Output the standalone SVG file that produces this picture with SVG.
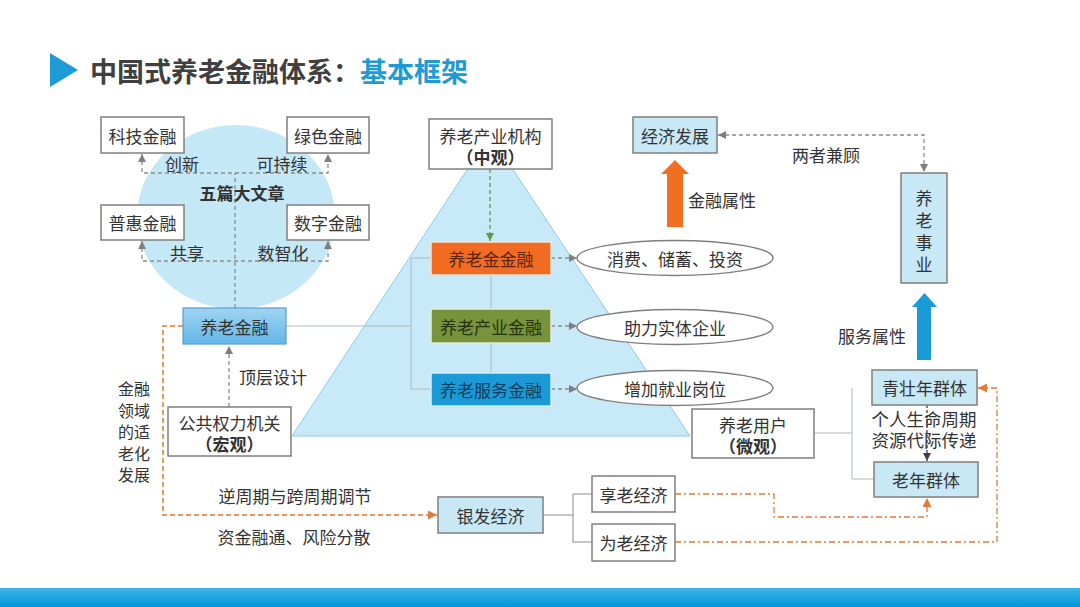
<svg xmlns="http://www.w3.org/2000/svg" width="1080" height="607" viewBox="0 0 1080 607">
<defs>
<style>
text{font-family:"Noto Sans CJK SC","Liberation Sans",sans-serif;fill:#333;font-size:17px;dominant-baseline:central;text-anchor:middle}
.b{font-weight:bold}
.sm{font-size:16px}
.box{fill:#fff;stroke:#7f7f7f;stroke-width:1.5}
.lb{fill:#c9e8f5;stroke:#7f7f7f;stroke-width:1.5}
.dg{fill:none;stroke:#8c8c8c;stroke-width:1.3;stroke-dasharray:4 3}
.sl{fill:none;stroke:#b0b8bc;stroke-width:1}
.or{fill:none;stroke:#e07b39;stroke-width:1.5;stroke-dasharray:5 3}
.od{fill:none;stroke:#e07b39;stroke-width:1.3;stroke-dasharray:6 3 2 3}
.ell{fill:#fff;stroke:#7f7f7f;stroke-width:1.5}
</style>
<marker id="ag" viewBox="0 0 10 10" refX="10" refY="5" markerWidth="8" markerHeight="8" markerUnits="userSpaceOnUse" orient="auto-start-reverse"><path d="M0,0 L10,5 L0,10 z" fill="#7f7f7f"/></marker>
<marker id="ad" viewBox="0 0 10 10" refX="10" refY="5" markerWidth="8" markerHeight="8" markerUnits="userSpaceOnUse" orient="auto-start-reverse"><path d="M0,0 L10,5 L0,10 z" fill="#404040"/></marker>
<marker id="agr" viewBox="0 0 10 10" refX="10" refY="5" markerWidth="8" markerHeight="8" markerUnits="userSpaceOnUse" orient="auto-start-reverse"><path d="M0,0 L10,5 L0,10 z" fill="#5f9a3c"/></marker>
<marker id="ao" viewBox="0 0 10 10" refX="10" refY="5" markerWidth="9" markerHeight="9" markerUnits="userSpaceOnUse" orient="auto-start-reverse"><path d="M0,0 L10,5 L0,10 z" fill="#e07b39"/></marker>
<linearGradient id="gb" x1="0" y1="0" x2="0" y2="1"><stop offset="0" stop-color="#9fd4f2"/><stop offset="1" stop-color="#62b6e8"/></linearGradient>
<linearGradient id="bar" x1="0" y1="0" x2="0" y2="1"><stop offset="0" stop-color="#3cb4e8"/><stop offset="1" stop-color="#0097d8"/></linearGradient>
</defs>
<rect width="1080" height="607" fill="#fff"/>
<g id="title">
<polygon points="50,53 78,70 50,87" fill="#1e9ad6"/>
<text x="90" y="70" class="b" style="font-size:27px;text-anchor:start;fill:#404040">中国式养老金融体系：<tspan style="fill:#1e9ad6">基本框架</tspan></text>
</g>
<g id="bg">
<ellipse cx="236" cy="217" rx="99" ry="92" fill="#c5e8f7"/>
<polygon points="490,135 292,436 690,436" fill="#c8eaf8" stroke="#8fcbe6" stroke-width="1"/>
<rect x="0" y="588" width="1080" height="19" fill="url(#bar)"/>
</g>
<g id="connectors">
<path class="dg" d="M235,308 V173"/>
<path class="dg" d="M142,154 V173 H328 V154" marker-start="url(#ag)" marker-end="url(#ag)"/>
<path class="dg" d="M142,241 V261 H328 V241" marker-start="url(#ag)" marker-end="url(#ag)"/>
<path class="dg" d="M229,407 V346" marker-end="url(#ag)"/>
<path class="sl" d="M286,326 H411"/>
<path class="sl" d="M431,258 H411 V389 H431"/>
<path class="sl" d="M491,275 V309 M491,343 V373"/>
<path fill="none" stroke="#5f9a3c" stroke-width="1.3" stroke-dasharray="4 3" d="M490,169 V241" marker-end="url(#agr)"/>
<path class="dg" d="M551,258 H577" marker-end="url(#ag)"/>
<path class="dg" d="M551,326 H577" marker-end="url(#ag)"/>
<path class="dg" d="M551,389 H577" marker-end="url(#ag)"/>
<path class="dg" d="M718,135 H924 V172" marker-start="url(#ag)" marker-end="url(#ag)"/>
<path class="sl" d="M814,433 H852 M852,388 V479 H874"/>
<path fill="none" stroke="#404040" stroke-width="1.3" stroke-dasharray="3 2" d="M927,405 V461" marker-end="url(#ad)"/>
<path class="or" d="M183,326 H163 V515 H437" marker-end="url(#ao)"/>
<path fill="none" stroke="#8c8c8c" stroke-width="1" d="M543,515 H573 M592,494 H573 V542 H592"/>
<path class="od" d="M675,494 H774 V517 H927 V498" marker-end="url(#ao)"/>
<path class="od" d="M675,542 H997 V388 H978" marker-end="url(#ao)"/>
<polygon points="675,160 689,174 683,174 683,227 667,227 667,174 661,174" fill="#f07020"/>
<polygon points="924.5,293 937,307 931,307 931,360 917,360 917,307 912,307" fill="#1a9bd7"/>
</g>
<g id="n-keji"><rect class="box" x="101" y="117" width="83" height="36"/><text x="142.5" y="135">科技金融</text></g>
<g id="n-lvse"><rect class="box" x="287" y="117" width="82" height="36"/><text x="328" y="135">绿色金融</text></g>
<g id="n-puhui"><rect class="box" x="101" y="205" width="83" height="35"/><text x="142.5" y="222.5">普惠金融</text></g>
<g id="n-shuzi"><rect class="box" x="287" y="205" width="82" height="35"/><text x="328" y="222.5">数字金融</text></g>
<g id="labels-circle">
<text x="182" y="163">创新</text>
<text x="282" y="163">可持续</text>
<text x="242" y="192" class="b">五篇大文章</text>
<text x="187" y="252">共享</text>
<text x="283" y="252">数智化</text>
</g>
<g id="n-yljr"><rect x="183" y="308" width="103" height="36" fill="url(#gb)" stroke="#5a9ccc" stroke-width="1.2"/><text x="234.5" y="326">养老金融</text></g>
<g id="n-gonggong"><rect class="box" x="168" y="407" width="123" height="49"/><text x="229.5" y="422">公共权力机关<tspan x="229.5" dy="21" class="b">（宏观）</tspan></text></g>
<text x="273" y="376">顶层设计</text>
<g id="label-left">
<text class="sm" x="134" y="388">金融<tspan x="134" dy="21.5">领域</tspan><tspan x="134" dy="21.5">的适</tspan><tspan x="134" dy="21.5">老化</tspan><tspan x="134" dy="21.5">发展</tspan></text>
</g>
<text x="295" y="495">逆周期与跨周期调节</text>
<text x="294" y="536">资金融通、风险分散</text>
<g id="n-zhongguan"><rect class="box" x="429" y="119" width="123" height="50"/><text x="490.5" y="135">养老产业机构<tspan x="490.5" dy="21" class="b">（中观）</tspan></text></g>
<g id="n-yljjr"><rect x="431" y="242" width="120" height="33" fill="#f26b22" stroke="#fbe0cc" stroke-width="1.5"/><text x="491" y="258.5" style="fill:#5a2410">养老金金融</text></g>
<g id="n-cyjr"><rect x="431" y="309" width="120" height="34" fill="#77933c" stroke="#e4edd5" stroke-width="1.5"/><text x="491" y="326" style="fill:#25330d">养老产业金融</text></g>
<g id="n-fwjr"><rect x="431" y="373" width="120" height="33" fill="#1a9bd7" stroke="#d5edf8" stroke-width="1.5"/><text x="491" y="389.5" style="fill:#123d5c">养老服务金融</text></g>
<g id="e-xiaofei"><ellipse class="ell" cx="675" cy="258" rx="98" ry="17.5"/><text x="675" y="258">消费、储蓄、投资</text></g>
<g id="e-zhuli"><ellipse class="ell" cx="675" cy="327" rx="98" ry="17.5"/><text x="675" y="327">助力实体企业</text></g>
<g id="e-zengjia"><ellipse class="ell" cx="675" cy="388" rx="98" ry="17.5"/><text x="675" y="388">增加就业岗位</text></g>
<g id="n-jjfz"><rect class="lb" x="633" y="117" width="84" height="36"/><text x="675" y="135">经济发展</text></g>
<text x="722" y="199">金融属性</text>
<text x="826" y="154">两者兼顾</text>
<g id="n-ylsy"><rect class="lb" x="901" y="173" width="46" height="110"/><text x="924" y="197">养<tspan x="924" dy="22">老</tspan><tspan x="924" dy="22">事</tspan><tspan x="924" dy="22">业</tspan></text></g>
<text x="872" y="335">服务属性</text>
<g id="n-qingzhuang"><rect class="lb" x="872" y="370" width="105" height="35"/><text x="924.5" y="387.5">青壮年群体</text></g>
<g id="n-laonian"><rect class="lb" x="874" y="462" width="104" height="35"/><text x="926" y="479.5">老年群体</text></g>
<text x="924" y="418" style="font-size:17.5px">个人生命周期<tspan x="924" dy="21">资源代际传递</tspan></text>
<g id="n-yonghu"><rect class="box" x="692" y="409" width="122" height="49"/><text x="753" y="424">养老用户<tspan x="753" dy="21" class="b">（微观）</tspan></text></g>
<g id="n-yinfa"><rect class="lb" x="438" y="497" width="105" height="36"/><text x="490.5" y="515">银发经济</text></g>
<g id="n-xianglao"><rect class="box" x="592" y="476" width="83" height="36"/><text x="633.5" y="494">享老经济</text></g>
<g id="n-weilao"><rect class="box" x="592" y="524" width="83" height="37"/><text x="633.5" y="542.5">为老经济</text></g>
</svg>
